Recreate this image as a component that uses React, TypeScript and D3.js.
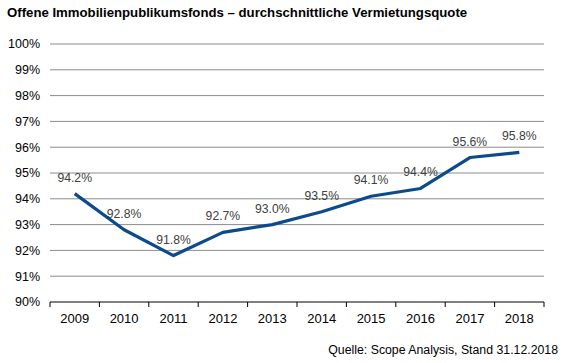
import React from 'react';
import * as d3 from 'd3';

const years = ['2009', '2010', '2011', '2012', '2013', '2014', '2015', '2016', '2017', '2018'];
const quote = [94.2, 92.8, 91.8, 92.7, 93.0, 93.5, 94.1, 94.4, 95.6, 95.8];
const yTicks = [90, 91, 92, 93, 94, 95, 96, 97, 98, 99, 100];

const TITLE = 'Offene Immobilienpublikumsfonds – durchschnittliche Vermietungsquote';
const SOURCE = 'Quelle: Scope Analysis, Stand 31.12.2018';

const width = 562;
const height = 363;
const margin = { top: 44, right: 18, bottom: 61, left: 50 };

const App: React.FC = () => {
  const x = d3
    .scaleBand<string>()
    .domain(years)
    .range([margin.left, width - margin.right]);
  const y = d3
    .scaleLinear()
    .domain([90, 100])
    .range([height - margin.bottom, margin.top]);

  const cx = (yr: string) => (x(yr) ?? 0) + x.bandwidth() / 2;

  const line = d3
    .line<number>()
    .x((_, i) => cx(years[i]))
    .y((d) => y(d));

  const fmt = (v: number) => v.toFixed(1) + '%';
  const font = 'Liberation Sans, Arial, sans-serif';

  // tick marks sit on the category boundaries
  const tickXs = years.map((yr) => x(yr) ?? 0).concat([width - margin.right]);

  return (
    <svg
      width={width}
      height={height}
      style={{ position: 'absolute', left: 0, top: 0, background: '#fff' }}
      fontFamily={font}
    >
      <text x={7} y={17} fontSize={13.2} fontWeight="bold" fill="#000">
        {TITLE}
      </text>

      {/* gridlines + y labels */}
      {yTicks.map((t) => (
        <g key={t}>
          {t > 90 && (
            <line
              x1={margin.left}
              x2={width - margin.right}
              y1={y(t)}
              y2={y(t)}
              stroke="#8c8c8c"
              strokeWidth={1}
            />
          )}
          <text
            x={40}
            y={y(t)}
            dy="0.35em"
            textAnchor="end"
            fontSize={12.5}
            fill="#000"
          >
            {t}%
          </text>
        </g>
      ))}

      {/* x axis */}
      <line
        x1={margin.left}
        x2={width - margin.right}
        y1={y(90)}
        y2={y(90)}
        stroke="#000"
        strokeWidth={1}
      />
      {tickXs.map((tx, i) => (
        <line
          key={i}
          x1={tx}
          x2={tx}
          y1={y(90)}
          y2={y(90) + 5}
          stroke="#000"
          strokeWidth={1}
        />
      ))}
      {years.map((yr) => (
        <text
          key={yr}
          x={cx(yr)}
          y={y(90) + 16}
          dy="0.35em"
          textAnchor="middle"
          fontSize={13}
          fill="#000"
        >
          {yr}
        </text>
      ))}

      <path
        d={line(quote) ?? ''}
        fill="none"
        stroke="#0b4a8b"
        strokeWidth={3.2}
        strokeLinejoin="round"
      />

      {quote.map((v, i) => (
        <text
          key={years[i]}
          x={cx(years[i])}
          y={y(v) - 12}
          textAnchor="middle"
          fontSize={12.2}
          fill="#404040"
        >
          {fmt(v)}
        </text>
      ))}

      <text x={558} y={354} textAnchor="end" fontSize={12.3} fill="#000">
        {SOURCE}
      </text>
    </svg>
  );
};

export default App;
